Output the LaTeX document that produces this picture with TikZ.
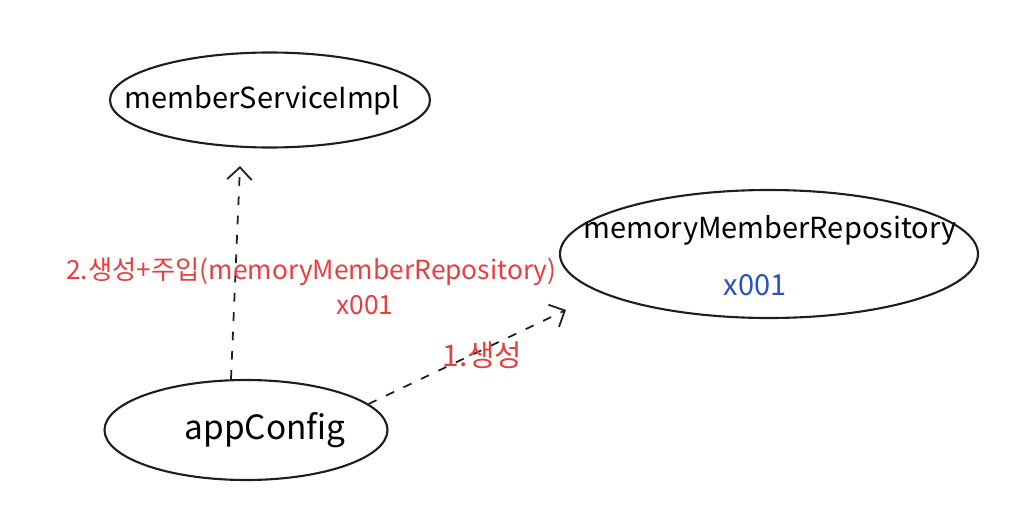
\documentclass[tikz,border=0pt]{standalone}
\usepackage{fontspec}
\setmainfont{Noto Sans CJK KR}
\usepackage{tikz}
\usetikzlibrary{arrows.meta,positioning,shapes.geometric,calc}
\definecolor{penred}{RGB}{232,62,62}
\definecolor{penblue}{RGB}{40,80,200}
\definecolor{penblack}{RGB}{30,30,30}

\begin{document}
\begin{tikzpicture}[every node/.style={font=\fontsize{16.5}{20}\selectfont},
  bean/.style={ellipse, draw=penblack, line width=1.2pt, inner sep=0pt},
  depends/.style={penblack, line width=1pt, dashed, dash pattern=on 5pt off 6pt,
    -{Straight Barb[length=7pt,width=14pt,line width=1pt]}},
  redtext/.style={text=penred, font=\fontsize{15}{18}\selectfont}]
\useasboundingbox (0,0) rectangle (20.3,10.5);

% beans
\node[bean, minimum width=6.4cm, minimum height=1.9cm] (svc) at (5.4,8.5) {};
\node (svcname) at (5.25,8.5) {memberServiceImpl};
\node[bean, minimum width=8.36cm, minimum height=2.56cm] (repo) at (15.38,5.42) {};
\node (reponame) at (15.4,5.9) {memoryMemberRepository};
\node[text=penblue] (repoaddr) at (15.1,4.8) {x001};
\node[bean, minimum width=5.66cm, minimum height=2.0cm] (app) at (4.92,1.9) {};
\node[font=\fontsize{19}{22}\selectfont] (appname) at (5.3,1.9) {appConfig};

% connectors
\coordinate (tip) at ([shift={(0.14,-1.12)}]repo.west);
\draw[depends] ([xshift=-0.3cm]app.north) -- ([xshift=-0.6cm,yshift=-0.35cm]svc.south);
\draw[depends] (app.12) -- (tip);

\node[redtext] (inject) at (6.23,5.06) {2.생성+주입(memoryMemberRepository)};
\node[redtext] (injectaddr) at (7.3,4.4) {x001};
\node[redtext, font=\fontsize{17}{20}\selectfont] (create) at (9.65,3.4) {1.생성};
\end{tikzpicture}
\end{document}
